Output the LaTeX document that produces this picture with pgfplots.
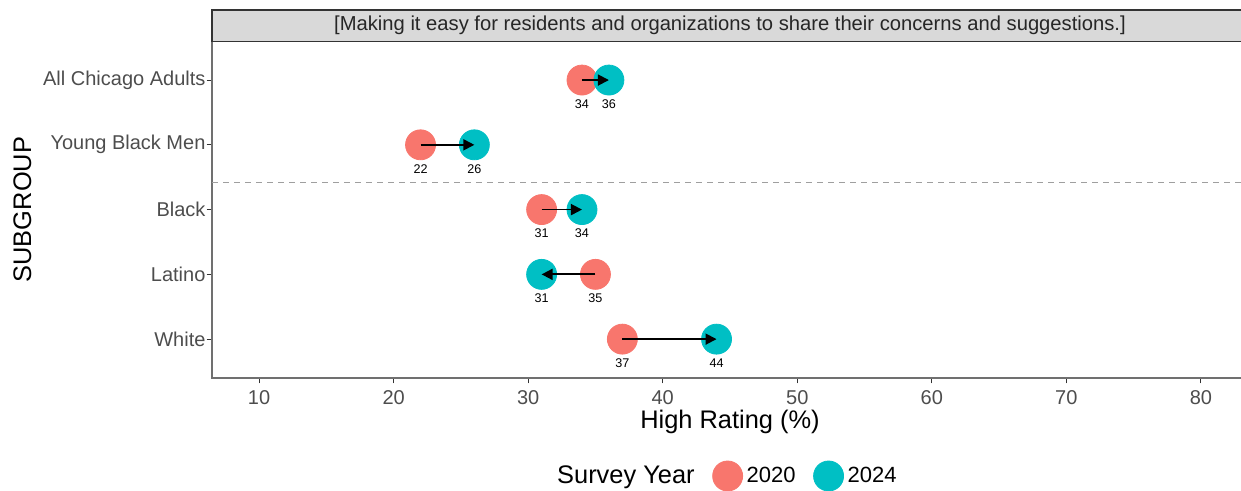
\documentclass[border=0pt]{standalone}
\usepackage{fontspec}
\setmainfont{Liberation Sans}
\usepackage{pgfplots}
\usepackage{pgfplotstable}
\pgfplotsset{compat=1.18}
\usetikzlibrary{arrows.meta}
\definecolor{c2020}{HTML}{F8766D}
\definecolor{c2024}{HTML}{00BFC4}
\definecolor{gtxt}{HTML}{4D4D4D}
\definecolor{gline}{HTML}{333333}

% y: row position (White = 1 ... All Chicago Adults = 5), a: 2020, b: 2024
\pgfplotstableread{
y  a  b
5 34 36
4 22 26
3 31 34
2 35 31
1 37 44
}\rows

\begin{document}
\begin{tikzpicture}
\begin{axis}[
  set layers,
  scale only axis,
  width=518pt, height=168.4pt,
  xmin=6.5, xmax=83.5, ymin=0.4, ymax=5.6,
  xtick={10,20,...,80},
  ytick={1,...,5},
  yticklabels={White,Latino,Black,Young Black Men,All Chicago Adults},
  tick pos=left,
  tick align=outside, major tick length=2.75pt,
  tick style={gline, line width=0.5pt},
  axis line style={gline!70, line width=0.6pt},
  tick label style={font=\fontsize{10}{12}\selectfont, text=gtxt},
  yticklabel style={xshift=3pt},
  /pgf/number format/assume math mode=true,
  xlabel={High Rating (\%)}, ylabel={SUBGROUP},
  label style={font=\fontsize{12.7}{15}\selectfont},
  xlabel style={yshift=4pt},
  ylabel style={yshift=-1pt},
  clip=false,
  legend columns=3,
  legend style={at={(0.497,-0.291)}, anchor=center, draw=none,
    font=\fontsize{11}{13}\selectfont,
    /tikz/every even column/.append style={column sep=7pt}},
]
\addlegendimage{empty legend}
\addlegendentry{\fontsize{12.7}{15}\selectfont Survey Year}

\addplot[gray!75, dash pattern=on 3pt off 2.5pt, line width=0.75pt, forget plot]
  coordinates {(6.5,3.42) (83.5,3.42)};

\addplot[only marks, mark=*, mark size=7.5pt, c2020, draw=none,
  point meta=explicit, nodes near coords,
  every node near coord/.append style={anchor=center, yshift=-12pt,
    font=\fontsize{6.3}{7}\selectfont, text=black}]
  table[x=a, y=y, meta=a] {\rows};
\addlegendentry{2020}

\addplot[only marks, mark=*, mark size=7.5pt, c2024, draw=none,
  point meta=explicit, nodes near coords,
  every node near coord/.append style={anchor=center, yshift=-12pt,
    font=\fontsize{6.3}{7}\selectfont, text=black}]
  table[x=b, y=y, meta=b] {\rows};
\addlegendentry{2024}

\addplot[black, line width=0.9pt, forget plot, on layer=axis foreground,
  quiver={u=\thisrow{b}-\thisrow{a}, v=0,
    every arrow/.append style={-{Triangle[length=5.5pt, width=5.5pt]}}}]
  table[x=a, y=y] {\rows};
\end{axis}
\draw[fill=gray!30, draw=gline, line width=0.6pt]
  (current axis.north west) rectangle ([yshift=15.6pt]current axis.north east);
\node[font=\fontsize{10.1}{12}\selectfont, text=black!85] at ([yshift=7.8pt]current axis.north)
  {[Making it easy for residents and organizations to share their concerns and suggestions.]};
\pgfresetboundingbox
\useasboundingbox (-106pt,-56.5pt) rectangle (514.5pt,189pt);
\end{tikzpicture}
\end{document}
